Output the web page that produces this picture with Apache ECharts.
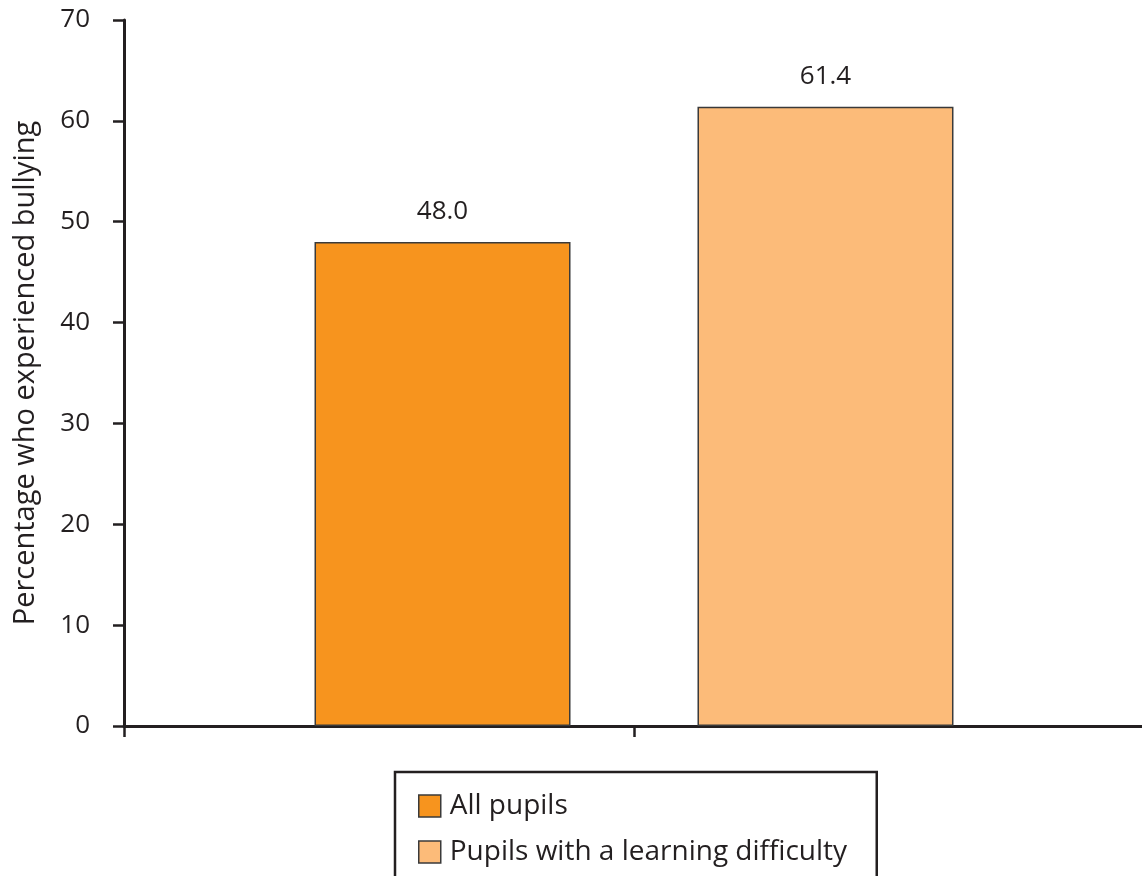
<!DOCTYPE html>
<html>
<head>
<meta charset="utf-8">
<script src="https://cdn.jsdelivr.net/npm/echarts@6/dist/echarts.min.js"></script>
<style>
  html, body { margin: 0; padding: 0; background: #fff; }
  #chart { width: 1142px; height: 876px; }
</style>
</head>
<body>
<div id="chart"></div>
<script>
// Share of pupils who reported being bullied, by group
const groups = ['All pupils', 'Pupils with a learning difficulty'];
const values = [48.0, 61.4];
const colors = ['#F7941E', '#FCBB79'];
const yTicks = { min: 0, max: 70, interval: 10 };
const yTitle = 'Percentage who experienced bullying';

const ink = '#231F20';
const font = '"Open Sans", "Liberation Sans", sans-serif';

const chart = echarts.init(document.getElementById('chart'), null, { renderer: 'canvas' });

const series = groups.map((name, i) => ({
  name: name,
  type: 'bar',
  xAxisIndex: 0,
  data: [values[i]],
  barWidth: 256,
  barGap: '49.6%',
  itemStyle: { color: colors[i], borderColor: '#3A3A3A', borderWidth: 1.5 },
  label: {
    show: true,
    position: 'top',
    distance: 17,
    formatter: p => p.value.toFixed(1),
    color: ink,
    fontFamily: font,
    fontSize: 26
  },
  emphasis: { disabled: true }
}));

chart.setOption({
  animation: false,
  grid: { left: 124, right: -2, top: 20, bottom: 150, containLabel: false, outerBoundsMode: 'none' },
  xAxis: [
    {
      type: 'category',
      data: [''],
      show: false
    },
    {
      // frame axis: line plus boundary ticks
      type: 'category',
      position: 'bottom',
      data: ['', ''],
      boundaryGap: true,
      axisLine: { show: true, lineStyle: { color: ink, width: 3 } },
      axisTick: { show: true, length: 11, lineStyle: { color: ink, width: 2.5 } },
      axisLabel: { show: false },
      splitLine: { show: false }
    }
  ],
  yAxis: {
    type: 'value',
    min: yTicks.min,
    max: yTicks.max,
    interval: yTicks.interval,
    name: yTitle,
    nameLocation: 'middle',
    nameGap: 84,
    nameRotate: 90,
    nameTextStyle: { color: ink, fontFamily: font, fontSize: 29 },
    axisLine: { show: true, lineStyle: { color: ink, width: 3 } },
    axisTick: { show: true, length: 11, lineStyle: { color: ink, width: 2.5 } },
    axisLabel: { color: ink, fontFamily: font, fontSize: 26, margin: 34 },
    splitLine: { show: false }
  },
  legend: {
    orient: 'vertical',
    left: 395,
    top: 772,
    height: 300,
    data: groups,
    icon: 'rect',
    itemWidth: 22,
    itemHeight: 22,
    itemGap: 16,
    itemStyle: { borderColor: '#3A3A3A', borderWidth: 1.5 },
    padding: [19, 22, 40, 23],
    borderColor: ink,
    borderWidth: 2.5,
    borderRadius: 0,
    selectedMode: false,
    textStyle: {
      color: ink, fontFamily: font, fontSize: 28, lineHeight: 30,
      width: 405, overflow: 'none', padding: [0, 0, 0, 4]
    }
  },
  series: series
});
</script>
</body>
</html>
